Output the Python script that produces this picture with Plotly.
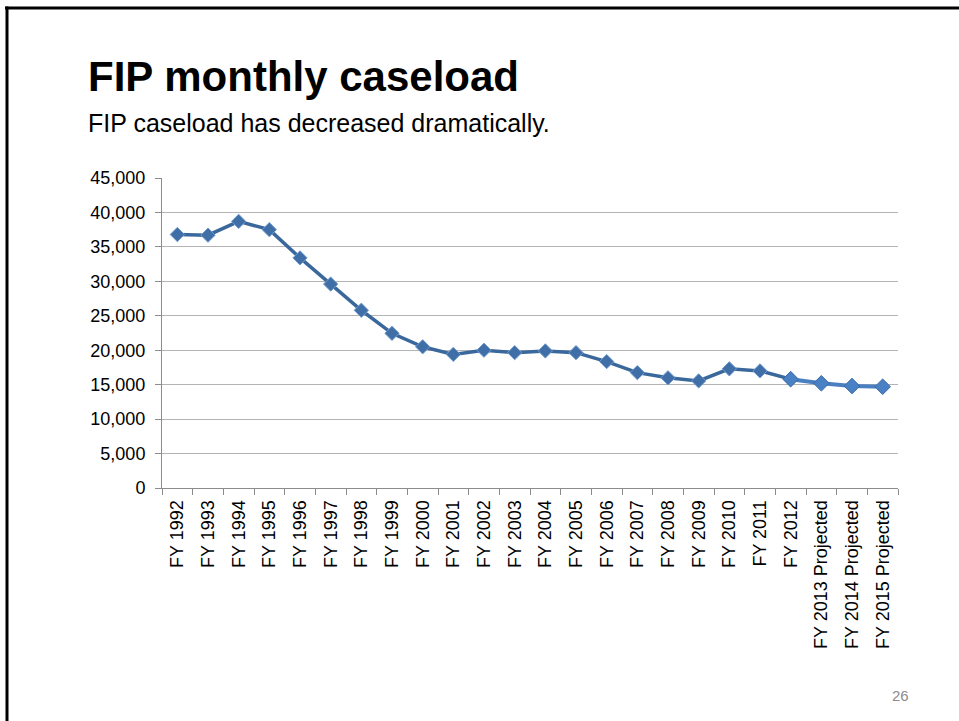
import plotly.graph_objects as go

categories = ["FY 1992", "FY 1993", "FY 1994", "FY 1995", "FY 1996", "FY 1997",
              "FY 1998", "FY 1999", "FY 2000", "FY 2001", "FY 2002", "FY 2003",
              "FY 2004", "FY 2005", "FY 2006", "FY 2007", "FY 2008", "FY 2009",
              "FY 2010", "FY 2011", "FY 2012", "FY 2013 Projected",
              "FY 2014 Projected", "FY 2015 Projected"]
caseload = [36800, 36700, 38700, 37500, 33400, 29600, 25800, 22450, 20500,
            19400, 20000, 19650, 19900, 19650, 18350, 16750, 16000, 15550,
            17300, 17000, 15800, 15200, 14800, 14700]
n_actual = 21  # FY 1992 - FY 2012 are actual values; the rest projected

y_ticks = [0, 5000, 10000, 15000, 20000, 25000, 30000, 35000, 40000, 45000]

FONT = "Liberation Sans, Arial, sans-serif"

# plot area in page pixels: x 162..898, y 178..488
L, T, PW, PH = 162, 178, 736, 310
def px(x):
    return (x - L) / PW
def py(y):
    return (T + PH - y) / PH

fig = go.Figure()

# actual series
fig.add_trace(go.Scatter(
    x=categories[:n_actual], y=caseload[:n_actual],
    mode="lines+markers",
    line=dict(color="#3b689c", width=3.5),
    marker=dict(symbol="diamond", size=11, color="#3f6fa6",
                line=dict(color="#6f9ad0", width=1)),
    hoverinfo="x+y", showlegend=False,
))
# projected series (connected to last actual point)
fig.add_trace(go.Scatter(
    x=categories[n_actual - 1:], y=caseload[n_actual - 1:],
    mode="lines+markers",
    line=dict(color="#4a7fc1", width=4),
    marker=dict(symbol="diamond", size=12, color="#4a80c4",
                line=dict(color="#3a6aa8", width=1)),
    hoverinfo="x+y", showlegend=False,
))

fig.update_layout(
    width=959, height=721,
    margin=dict(l=L, r=959 - L - PW, t=T, b=721 - T - PH),
    paper_bgcolor="white", plot_bgcolor="white",
    font=dict(family=FONT, size=18, color="black"),
    xaxis=dict(
        type="category",
        categoryorder="array", categoryarray=categories,
        tickangle=-90,
        tickson="boundaries",
        ticks="outside", ticklen=6, tickcolor="#8c8c8c", tickwidth=1,
        ticklabelstandoff=4,
        showline=True, linecolor="#8c8c8c", linewidth=1,
        showgrid=False,
        tickfont=dict(family=FONT, size=18, color="black"),
        range=[-0.5, len(categories) - 0.5],
    ),
    yaxis=dict(
        range=[0, 45000],
        tickvals=y_ticks,
        tickformat=",",
        ticks="outside", ticklen=6, tickcolor="#8c8c8c", tickwidth=1,
        ticklabelstandoff=6,
        showline=True, linecolor="#8c8c8c", linewidth=1,
        showgrid=True, gridcolor="#b4b4b4", gridwidth=1,
        zeroline=False,
        tickfont=dict(family=FONT, size=18, color="black"),
    ),
    shapes=[
        # slide border (top and left)
        dict(type="line", xref="paper", yref="paper", x0=px(5), x1=px(970),
             y0=py(8), y1=py(8), line=dict(color="black", width=3)),
        dict(type="line", xref="paper", yref="paper", x0=px(7), x1=px(7),
             y0=py(730), y1=py(6.5), line=dict(color="black", width=3)),
    ],
    annotations=[
        dict(text="<b>FIP monthly caseload</b>", xref="paper", yref="paper",
             x=px(86), y=py(77), xanchor="left", yanchor="middle",
             showarrow=False,
             font=dict(family=FONT, size=42, color="black")),
        dict(text="FIP caseload has decreased dramatically.", xref="paper", yref="paper",
             x=px(86), y=py(123), xanchor="left", yanchor="middle",
             showarrow=False,
             font=dict(family=FONT, size=25, color="black")),
        dict(text="26", xref="paper", yref="paper",
             x=px(900), y=py(695), xanchor="center", yanchor="middle",
             showarrow=False,
             font=dict(family=FONT, size=15, color="#8c8c8c")),
    ],
)

fig.write_html("out.html", config={"displayModeBar": False},
               post_script="document.body.style.margin='0px';")
